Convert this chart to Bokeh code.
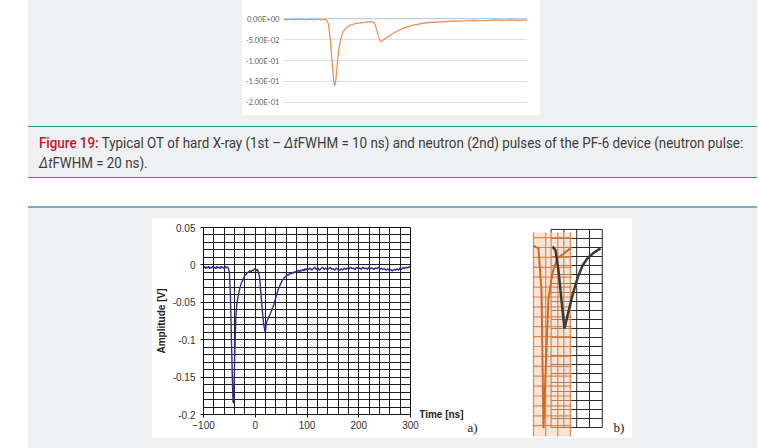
from bokeh.plotting import figure
from bokeh.models import Range1d, FixedTicker, SingleIntervalTicker, Span, Label, Div, Spacer
from bokeh.layouts import row, column
from bokeh.embed import file_html
from bokeh.resources import INLINE

PAGE_GRAY = "#eef0f2"
TEAL = "#2b8b9b"
TEAL_LIGHT = "#72b2bf"

# ---------------- data: top (Excel-style) optical trace ----------------
top_time = [0, 4, 8, 12, 16, 20, 24, 28, 32, 36, 40, 44, 48, 52, 56, 60, 64, 68, 72, 76, 80, 84, 88,
            92, 96, 100, 103, 105, 107, 110, 113, 117, 122, 128, 136, 146, 158, 170, 180, 186,
            190, 194, 198, 201, 205, 212, 222, 234, 248, 264, 282, 300, 315, 330, 345, 360, 375,
            390, 405, 420, 435, 450, 465, 480, 500]
top_volt = [-0.002, -0.001, -0.003, -0.002, -0.001, -0.002, -0.003, -0.001, -0.002, -0.002, -0.001,
            -0.003, -0.002, -0.001, -0.002, -0.003, -0.002, -0.001, -0.002, -0.003, -0.002, -0.002,
            -0.003, -0.012, -0.05, -0.11, -0.15, -0.16, -0.15, -0.11, -0.075, -0.05, -0.032, -0.022,
            -0.016, -0.012, -0.010, -0.008, -0.007, -0.009, -0.022, -0.04, -0.053, -0.055, -0.05,
            -0.045, -0.037, -0.029, -0.022, -0.016, -0.012, -0.009, -0.008, -0.007, -0.006, -0.006,
            -0.005, -0.004, -0.005, -0.004, -0.003, -0.004, -0.003, -0.004, -0.003]
top_ticks = [0.0, -0.05, -0.1, -0.15, -0.2]
top_tick_labels = ["0.00E+00", "-5.00E-02", "-1.00E-01", "-1.50E-01", "-2.00E-01"]

# ---------------- data: panel a) oscilloscope trace ----------------
a_time = [-100, -98, -96, -94, -92, -90, -88, -86, -84, -82, -80, -78, -76, -74, -72, -70, -68, -66,
          -64, -62, -60, -58, -56, -54, -52, -50, -48, -46, -44, -43, -42, -41, -40, -39, -38, -37,
          -36, -34, -32, -30, -28, -26, -24, -22, -20, -18, -16, -14, -12, -10, -8, -6, -4, -2, 0,
          2, 4, 6, 8, 10, 12, 14, 16, 18, 19, 20, 21, 22, 24, 26, 28, 30, 32, 34, 36, 38, 40, 42,
          44, 46, 48, 50, 52, 54, 56, 58, 60, 62, 64, 66, 68, 70, 72, 74, 76, 78, 80, 82, 84, 86,
          88, 90, 92, 94, 96, 98, 100, 103, 106, 109, 112, 115, 118, 121, 124, 127, 130, 133, 136,
          139, 142, 145, 148, 151, 154, 157, 160, 163, 166, 169, 172, 175, 178, 181, 184, 187, 190,
          193, 196, 199, 202, 205, 208, 211, 214, 217, 220, 223, 226, 229, 232, 235, 238, 241, 244,
          247, 250, 253, 256, 259, 262, 265, 268, 271, 274, 277, 280, 283, 286, 289, 292, 295, 298,
          300]
a_volt = [-0.004, -0.002, -0.005, -0.003, -0.004, -0.002, -0.005, -0.003, -0.004, -0.002, -0.004,
          -0.003, -0.005, -0.002, -0.004, -0.003, -0.005, -0.002, -0.004, -0.003, -0.005, -0.002,
          -0.004, -0.003, -0.004, -0.010, -0.040, -0.100, -0.160, -0.183, -0.185, -0.160, -0.130,
          -0.105, -0.080, -0.065, -0.055, -0.045, -0.038, -0.032, -0.027, -0.023, -0.020, -0.017,
          -0.014, -0.013, -0.011, -0.010, -0.009, -0.008, -0.009, -0.007, -0.008, -0.006, -0.005,
          -0.008, -0.006, -0.009, -0.015, -0.030, -0.048, -0.064, -0.078, -0.086, -0.089, -0.088,
          -0.080, -0.076, -0.073, -0.070, -0.067, -0.064, -0.060, -0.057, -0.053, -0.048, -0.043,
          -0.038, -0.034, -0.030, -0.027, -0.024, -0.021, -0.019, -0.017, -0.016, -0.015, -0.013,
          -0.014, -0.012, -0.011, -0.012, -0.010, -0.011, -0.009, -0.010, -0.008, -0.009, -0.007,
          -0.009, -0.007, -0.008, -0.006, -0.008, -0.005, -0.007, -0.005, -0.006, -0.004, -0.007,
          -0.005, -0.003, -0.006, -0.004, -0.007, -0.005, -0.003, -0.006, -0.004, -0.006, -0.005,
          -0.003, -0.006, -0.005, -0.007, -0.004, -0.006, -0.007, -0.005, -0.007, -0.004, -0.006,
          -0.004, -0.006, -0.003, -0.005, -0.004, -0.006, -0.003, -0.005, -0.004, -0.006, -0.003,
          -0.005, -0.004, -0.006, -0.003, -0.005, -0.004, -0.006, -0.004, -0.005, -0.003, -0.006,
          -0.004, -0.006, -0.005, -0.007, -0.005, -0.007, -0.006, -0.008, -0.006, -0.007, -0.005,
          -0.007, -0.004, -0.006, -0.003, -0.005, -0.003, -0.004, -0.002, -0.003]
a_x_ticks = [-100, 0, 100, 200, 300]
a_y_ticks = [0.05, 0.0, -0.05, -0.1, -0.15, -0.2]
a_y_tick_labels = ["0.05", "0", "-0.05", "-0.1", "-0.15", "-0.2"]

# ---------------- data: panel b) photographed traces ----------------
b_black_time = [42.2, 46.9, 51.6, 56.3, 60.9, 65.6, 73.4, 81.3, 89.1, 96.9, 106.3, 117.2]
b_black_volt = [0.001, -0.003, -0.026, -0.059, -0.090, -0.076, -0.053, -0.034, -0.020, -0.012, -0.006, -0.001]
b_orange_time = [12.5, 20.3, 25.0, 28.1, 32.8, 35.9, 42.2, 50.0, 59.4, 70.3]
b_orange_volt = [0.002, -0.001, -0.048, -0.201, -0.112, -0.057, -0.028, -0.012, -0.007, -0.001]
b_black_grid_x = [40, 60, 80, 100, 120]
b_black_grid_y = [round(0.02 - 0.01 * i, 3) for i in range(23)]
b_orange_grid_x = [12.5, 31.5, 50.5, 70.0]
b_orange_grid_y = [round(0.011 - 0.011 * i, 3) for i in range(20)]
b_orange_area = dict(left=12.5, right=71.9, top=0.0167, bottom=-0.21)


def gray_spacer(w, h):
    return Spacer(width=w, height=h, margin=0, styles={"background-color": PAGE_GRAY})


def blank(w, h):
    return Spacer(width=w, height=h, margin=0)


def no_frame_align(p):
    if "frame_align" in p.properties():
        p.frame_align = False


# ---------------- top chart ----------------
ft = figure(width=298, height=115, x_range=Range1d(0, 500), y_range=Range1d(-0.21, 0.01),
            title=None, x_axis_location=None, output_backend="svg", toolbar_location=None,
            min_border_left=41, min_border_right=13, min_border_top=14, min_border_bottom=9)
ft.xgrid.visible = False
ft.outline_line_color = None
ft.yaxis.ticker = FixedTicker(ticks=top_ticks)
ft.ygrid.ticker = FixedTicker(ticks=top_ticks)
ft.yaxis.major_label_overrides = dict(zip(top_ticks, top_tick_labels))
ft.yaxis.axis_line_color = None
ft.yaxis.major_tick_line_color = None
ft.yaxis.major_tick_in = 0
ft.yaxis.major_tick_out = 0
ft.yaxis.minor_tick_line_color = None
ft.yaxis.minor_tick_in = 0
ft.yaxis.minor_tick_out = 0
ft.yaxis.major_label_text_font = "Lato"
ft.yaxis.major_label_text_font_size = "7.6px"
ft.yaxis.major_label_text_color = "#666666"
ft.yaxis.major_label_standoff = 4
ft.ygrid.grid_line_color = "#dedede"
ft.add_layout(Span(location=0, dimension="width", line_color="#a9cbe8", line_width=1))
ft.line(top_time, top_volt, line_color="#ee8a4a", line_width=1.2)
no_frame_align(ft)

# ---------------- panel a) ----------------
FONT = "Liberation Sans"
fa = figure(width=267, height=220, x_range=Range1d(-100, 300), y_range=Range1d(-0.2, 0.05),
            title=None, output_backend="svg", toolbar_location=None,
            min_border_left=50, min_border_right=9, min_border_top=9, min_border_bottom=24)
fa.outline_line_color = "#111111"
fa.outline_line_width = 1
fa.xgrid.ticker = SingleIntervalTicker(interval=20, num_minor_ticks=0)
fa.ygrid.ticker = SingleIntervalTicker(interval=0.01, num_minor_ticks=0)
for g in (fa.xgrid, fa.ygrid):
    g.grid_line_color = "#1e1e1e"
    g.grid_line_width = 1
    g.grid_line_alpha = 1.0
fa.xaxis.ticker = FixedTicker(ticks=a_x_ticks)
fa.yaxis.ticker = FixedTicker(ticks=a_y_ticks)
fa.yaxis.major_label_overrides = dict(zip(a_y_ticks, a_y_tick_labels))
for ax in (fa.xaxis, fa.yaxis):
    ax.axis_line_color = "#111111"
    ax.major_tick_line_color = "#111111"
    ax.major_tick_in = 0
    ax.major_tick_out = 3
    ax.minor_tick_line_color = None
    ax.major_label_text_font = FONT
    ax.major_label_text_font_size = "10px"
    ax.major_label_text_color = "#333333"
fa.yaxis.major_label_standoff = 5
fa.xaxis.major_label_standoff = 3
fa.yaxis.axis_label = "Amplitude [V]"
fa.yaxis.axis_label_text_font = FONT
fa.yaxis.axis_label_text_font_style = "bold"
fa.yaxis.axis_label_text_font_size = "10px"
fa.yaxis.axis_label_text_color = "#222222"
fa.yaxis.axis_label_standoff = 3
fa.line(a_time, a_volt, line_color="#2f2f8c", line_width=1.4)
no_frame_align(fa)

# ---------------- panel b) (also carries the captions that sit right of panel a) ----------------
fb = figure(width=213, height=220, x_range=Range1d(-165.6, 167.2), y_range=Range1d(-0.2122, 0.0322),
            title=None, x_axis_type=None, y_axis_type=None, output_backend="svg", toolbar_location=None,
            min_border=0, min_border_left=0, min_border_right=0, min_border_top=0, min_border_bottom=0)
fb.outline_line_color = None
no_frame_align(fb)
gy0, gy1 = min(b_black_grid_y), max(b_black_grid_y)
gx0, gx1 = min(b_black_grid_x), max(b_black_grid_x)
fb.segment(x0=b_black_grid_x, y0=[gy0] * len(b_black_grid_x), x1=b_black_grid_x,
           y1=[gy1] * len(b_black_grid_x), line_color="#2a2a2a", line_width=1)
fb.segment(x0=[gx0] * len(b_black_grid_y), y0=b_black_grid_y, x1=[gx1] * len(b_black_grid_y),
           y1=b_black_grid_y, line_color="#2a2a2a", line_width=1)
fb.quad(left=[b_orange_area["left"]], right=[b_orange_area["right"]], top=[b_orange_area["top"]],
        bottom=[b_orange_area["bottom"]], fill_color="#f5cdb3", fill_alpha=0.55, line_color=None)
fb.segment(x0=b_orange_grid_x, y0=[b_orange_area["bottom"]] * len(b_orange_grid_x), x1=b_orange_grid_x,
           y1=[b_orange_area["top"]] * len(b_orange_grid_x), line_color="#d97a3c", line_width=1.2, line_alpha=0.85)
fb.segment(x0=[b_orange_area["left"]] * len(b_orange_grid_y), y0=b_orange_grid_y,
           x1=[b_orange_area["right"]] * len(b_orange_grid_y), y1=b_orange_grid_y,
           line_color="#d97a3c", line_width=1.2, line_alpha=0.85)
fb.line(b_orange_time, b_orange_volt, line_color="#cf6a25", line_width=2)
fb.line(b_black_time, b_black_volt, line_color="#3a3a3a", line_width=2.5)
fb.add_layout(Label(x=-166.0, y=-0.1856, text="Time [ns]", text_font=FONT,
                    text_font_style="bold", text_font_size="10px", text_color="#222222",
                    text_baseline="middle"))
fb.add_layout(Label(x=-90.6, y=-0.2, text="a)", text_font="Liberation Serif",
                    text_font_size="13px", text_color="#222222", text_baseline="middle"))
fb.add_layout(Label(x=137.5, y=-0.2, text="b)", text_font="Liberation Serif",
                    text_font_size="13px", text_color="#222222", text_baseline="middle"))

# ---------------- caption ----------------
caption_html = (
    '<div style="margin:6px 0 0 11px; width:760px; white-space:nowrap; transform:scaleX(0.955);'
    ' transform-origin:0 0; font-family:Roboto; font-size:14px; line-height:20px; color:#3c3c3c;">'
    '<span style="color:#c8102e; font-weight:500;">Figure 19:</span> Typical OT of hard X-ray (1st &ndash; '
    '<i>&Delta;t</i>FWHM = 10 ns) and neutron (2nd) pulses of the PF-6 device (neutron pulse:<br>'
    '<i>&Delta;t</i>FWHM = 20 ns).</div>'
)
caption = Div(text=caption_html, width=729, height=50, margin=0,
              styles={"background-color": PAGE_GRAY, "overflow": "hidden"})


def hline(color, h):
    return row(blank(28, h), Div(text="", width=729, height=h, margin=0,
               styles={"background-color": color}), blank(2, h), spacing=0)


top_section = row(blank(28, 126), gray_spacer(214, 126),
                  column(ft, gray_spacer(298, 11), spacing=0), gray_spacer(217, 126),
                  blank(2, 126), spacing=0)
caption_section = row(blank(28, 50), caption, blank(2, 50), spacing=0)
bottom_section = row(blank(28, 240), gray_spacer(124, 240),
                     column(gray_spacer(480, 10), row(fa, fb, spacing=0), gray_spacer(480, 10), spacing=0),
                     gray_spacer(125, 240), blank(2, 240), spacing=0)

page = column(top_section, hline(TEAL, 1), caption_section, hline(TEAL, 1),
              blank(759, 28), hline(TEAL_LIGHT, 2), bottom_section, spacing=0)

open("out.html", "w").write(file_html(page, INLINE))
